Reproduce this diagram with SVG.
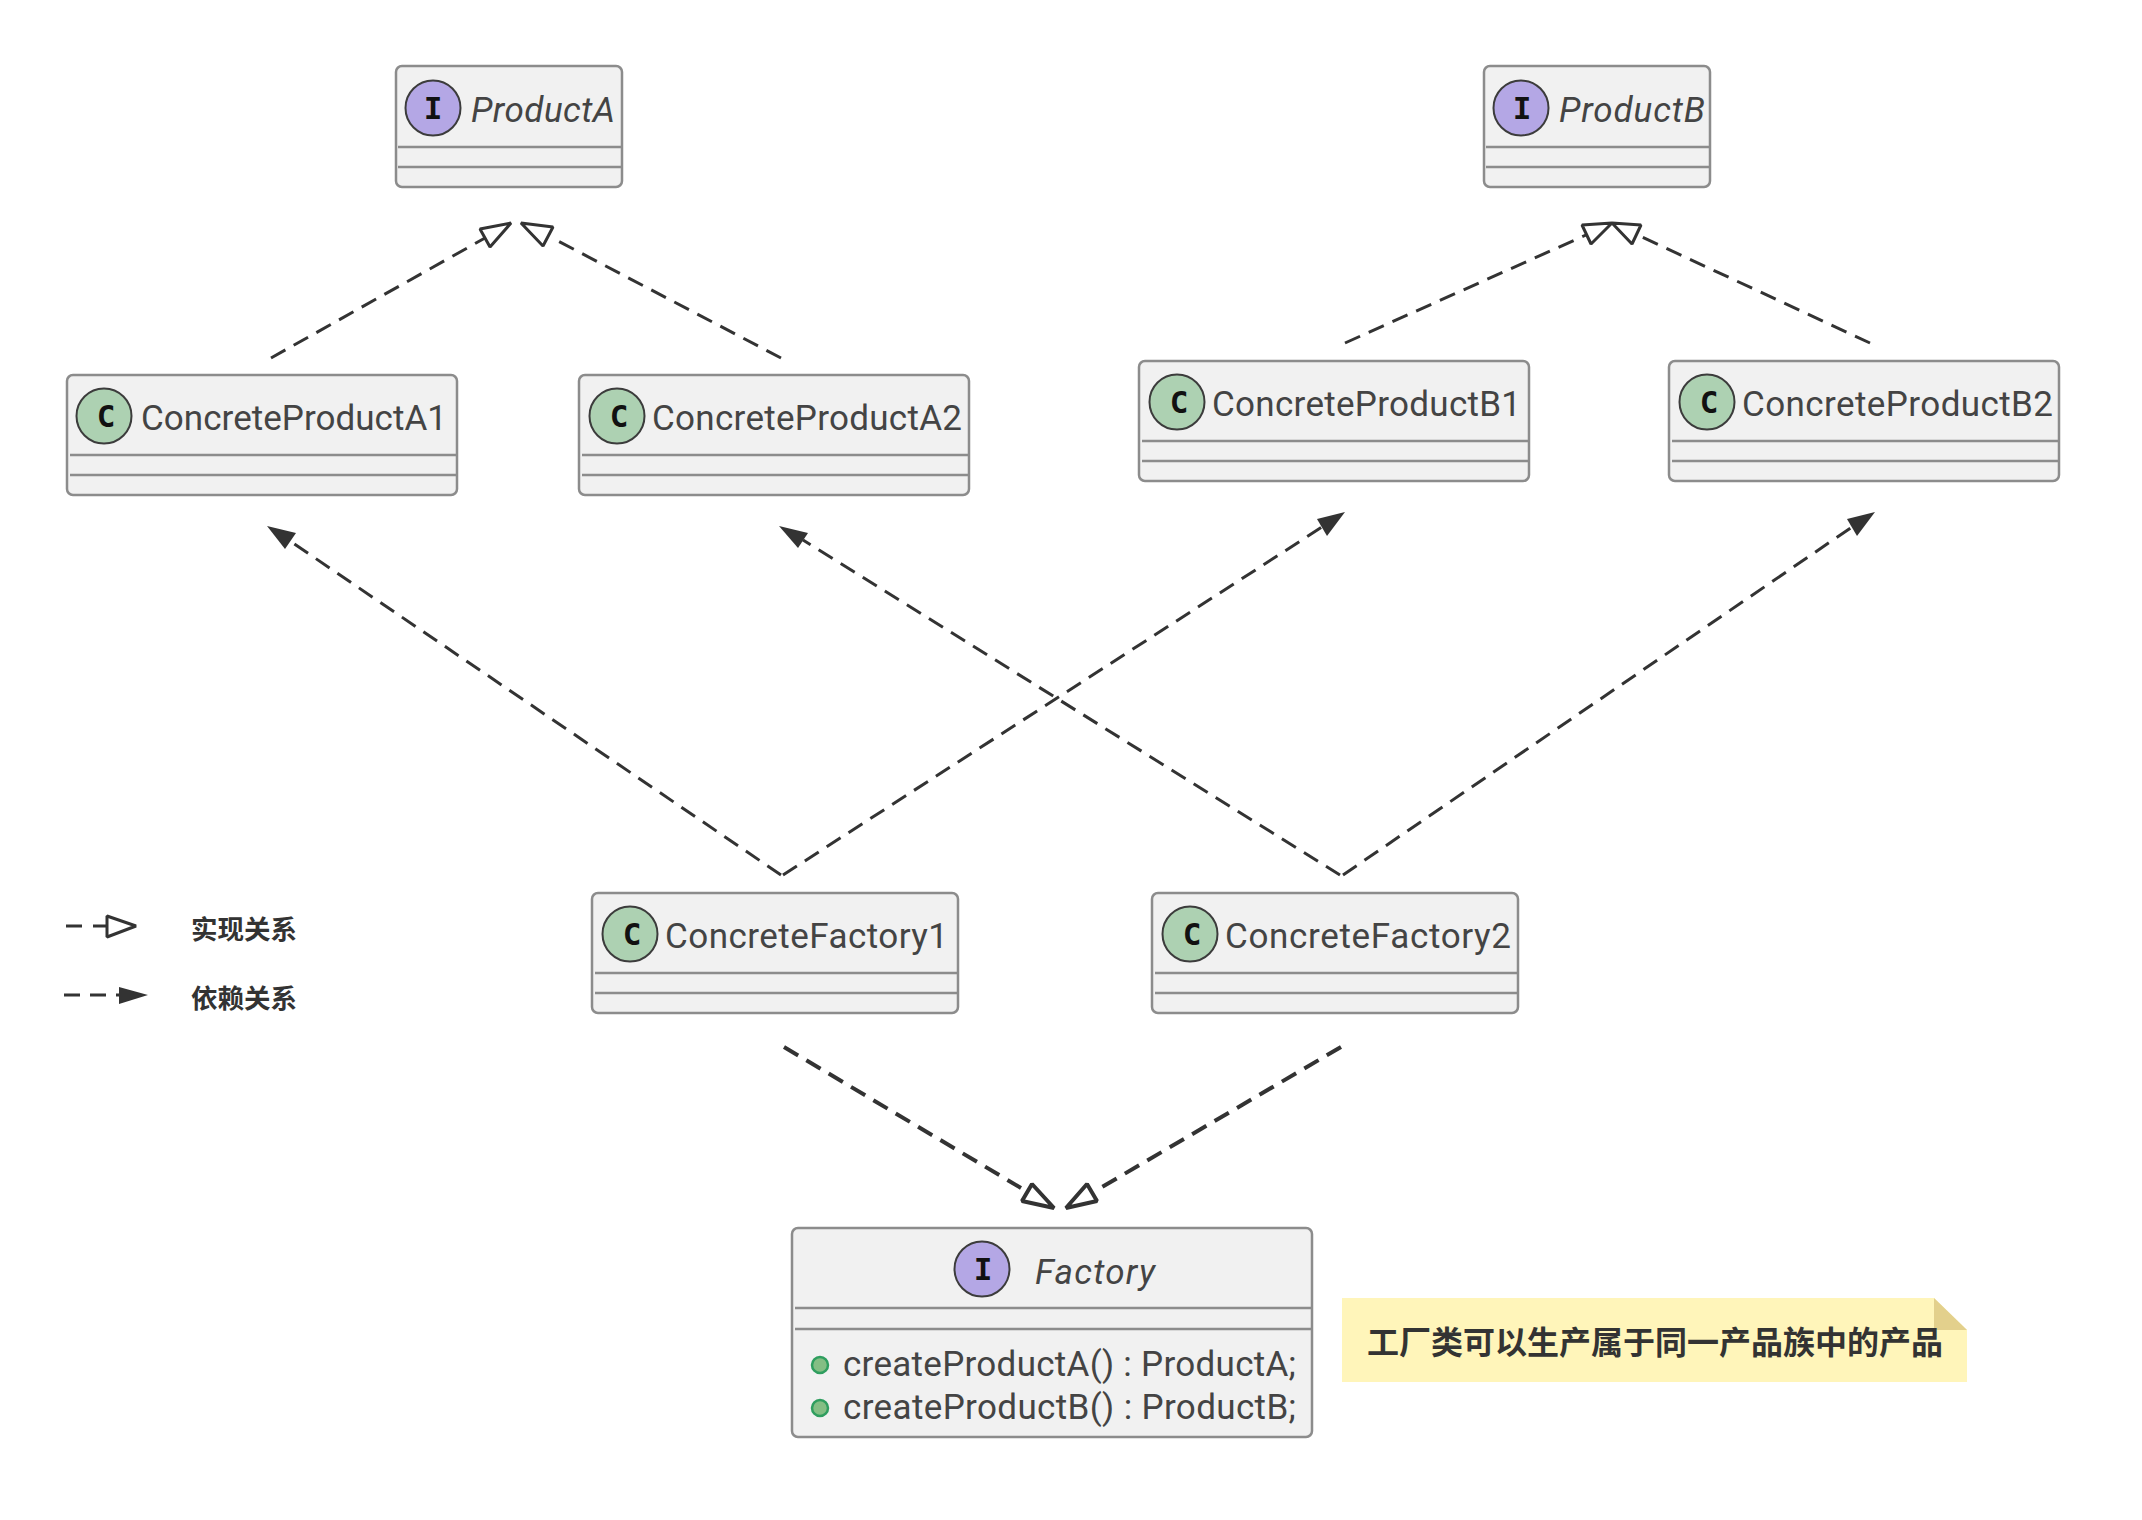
<svg xmlns="http://www.w3.org/2000/svg" width="2142" height="1520" viewBox="0 0 2142 1520">
<defs>
<style>
.box{fill:#f1f1f1;stroke:#8c8c8c;stroke-width:2.5}
.div{stroke:#8c8c8c;stroke-width:2.5;fill:none}
.cc{fill:#add1b2;stroke:#3c3c3c;stroke-width:2}
.ic{fill:#b4a7e5;stroke:#3c3c3c;stroke-width:2}
.t{font-family:Roboto,"Liberation Sans",sans-serif;font-size:35px;font-weight:400;fill:#444}
.i{font-style:italic}
.g{font-family:"DejaVu Sans Mono",monospace;font-size:31px;font-weight:700;fill:#111;text-anchor:middle}
.d{stroke:#333;stroke-width:3;fill:none;stroke-dasharray:16.5 9.5}
.h{stroke:#333;stroke-width:3;fill:#fff;stroke-linejoin:bevel}
.f{fill:#333;stroke:none}
.z{font-family:"Noto Sans CJK SC","Noto Sans",sans-serif;font-weight:700;fill:#333}
</style>
</defs>
<rect width="2142" height="1520" fill="#fff"/>
<g id="connectors">
<path class="d" d="M271 358L485 238"/>
<path class="h" d="M511 223L480 229L490 247Z"/>
<path class="d" d="M781 358L558 241"/>
<path class="h" d="M521 223L553 227L543 246Z"/>
<path class="d" d="M1345 343L1586 235"/>
<path class="h" d="M1612 223L1582 225L1591 244Z"/>
<path class="d" d="M1870 343L1642 237"/>
<path class="h" d="M1612 223L1641 225L1632 244Z"/>
<path class="d" d="M781 875L290 541"/>
<path class="f" d="M267 526L296 533L285 549Z"/>
<path class="d" d="M1340 875L803 540"/>
<path class="f" d="M779 526L808 533L798 548Z"/>
<path class="d" d="M783 875L1322 527"/>
<path class="f" d="M1345 512L1317 519L1327 536Z"/>
<path class="d" d="M1343 875L1852 527"/>
<path class="f" d="M1875 512L1847 519L1857 536Z"/>
<path class="d" style="stroke-width:4" d="M784 1047L1021 1188"/>
<path class="h" style="stroke-width:4" d="M1054 1208L1032 1184L1022 1201Z"/>
<path class="d" style="stroke-width:4" d="M1341 1047L1102 1187"/>
<path class="h" style="stroke-width:4" d="M1066 1208L1087 1184L1097 1201Z"/>
</g>
<g id="legend">
<path class="d" d="M66 926H82M93 926H107" style="stroke-dasharray:none"/>
<path class="h" d="M107 916V937L136 926Z"/>
<path class="d" d="M64 995H80M90 995H106M116 995H120" style="stroke-dasharray:none"/>
<path class="f" d="M119 987V1004L148 995Z"/>
<text class="z" x="191" y="938.500" font-size="26.500">实现关系</text>
<text class="z" x="191" y="1007.500" font-size="26.500">依赖关系</text>
</g>
<g id="ProductA">
<rect class="box" x="396" y="66" width="226" height="121" rx="6"/>
<path class="div" d="M398 147H621M398 167H621"/>
<circle class="ic" cx="433" cy="108" r="27.500"/><text class="g" x="433" y="119">I</text>
<text class="t i" x="471" y="121.500" textLength="144">ProductA</text>
</g>
<g id="ProductB">
<rect class="box" x="1484" y="66" width="226" height="121" rx="6"/>
<path class="div" d="M1486 147H1709M1486 167H1709"/>
<circle class="ic" cx="1521" cy="108" r="27.500"/><text class="g" x="1522" y="119">I</text>
<text class="t i" x="1559" y="121.500" textLength="146">ProductB</text>
</g>
<g id="ConcreteProductA1">
<rect class="box" x="67" y="375" width="390" height="120" rx="6"/>
<path class="div" d="M70 455H456M70 475H456"/>
<circle class="cc" cx="104" cy="416" r="27.500"/><text class="g" x="106" y="427">C</text>
<text class="t" x="141" y="429.500" textLength="306">ConcreteProductA1</text>
</g>
<g id="ConcreteProductA2">
<rect class="box" x="579" y="375" width="390" height="120" rx="6"/>
<path class="div" d="M582 455H968M582 475H968"/>
<circle class="cc" cx="617" cy="416" r="27.500"/><text class="g" x="619" y="427">C</text>
<text class="t" x="652" y="429.500" textLength="310">ConcreteProductA2</text>
</g>
<g id="ConcreteProductB1">
<rect class="box" x="1139" y="361" width="390" height="120" rx="6"/>
<path class="div" d="M1142 441H1528M1142 461H1528"/>
<circle class="cc" cx="1177" cy="402" r="27.500"/><text class="g" x="1179" y="413">C</text>
<text class="t" x="1212" y="415.500" textLength="309">ConcreteProductB1</text>
</g>
<g id="ConcreteProductB2">
<rect class="box" x="1669" y="361" width="390" height="120" rx="6"/>
<path class="div" d="M1672 441H2058M1672 461H2058"/>
<circle class="cc" cx="1707" cy="402" r="27.500"/><text class="g" x="1709" y="413">C</text>
<text class="t" x="1742" y="415.500" textLength="311">ConcreteProductB2</text>
</g>
<g id="ConcreteFactory1">
<rect class="box" x="592" y="893" width="366" height="120" rx="6"/>
<path class="div" d="M595 973H957M595 993H957"/>
<circle class="cc" cx="630" cy="934" r="27.500"/><text class="g" x="632" y="945">C</text>
<text class="t" x="665" y="947.500" textLength="283">ConcreteFactory1</text>
</g>
<g id="ConcreteFactory2">
<rect class="box" x="1152" y="893" width="366" height="120" rx="6"/>
<path class="div" d="M1155 973H1517M1155 993H1517"/>
<circle class="cc" cx="1190" cy="934" r="27.500"/><text class="g" x="1192" y="945">C</text>
<text class="t" x="1225" y="947.500" textLength="286">ConcreteFactory2</text>
</g>
<g id="Factory">
<rect class="box" x="792" y="1228" width="520" height="209" rx="6"/>
<path class="div" d="M795 1308H1311M795 1329H1311"/>
<circle class="ic" cx="982" cy="1269" r="27.500"/><text class="g" x="983" y="1280">I</text>
<text class="t i" x="1035" y="1283.500" textLength="120">Factory</text>
<circle cx="820" cy="1365" r="8" fill="#84be84" stroke="#2f9e5f" stroke-width="2.500"/>
<circle cx="820" cy="1408" r="8" fill="#84be84" stroke="#2f9e5f" stroke-width="2.500"/>
<text class="t" x="843" y="1375.500" textLength="453">createProductA() : ProductA;</text>
<text class="t" x="843" y="1418.500" textLength="453">createProductB() : ProductB;</text>
</g>
<g id="note">
<path d="M1342 1298H1934L1967 1330V1382H1342Z" fill="#fff5ba"/>
<path d="M1934 1298L1967 1330H1934Z" fill="#e3d08c"/>
<text class="z" x="1367" y="1354" font-size="32">工厂类可以生产属于同一产品族中的产品</text>
</g>
</svg>
